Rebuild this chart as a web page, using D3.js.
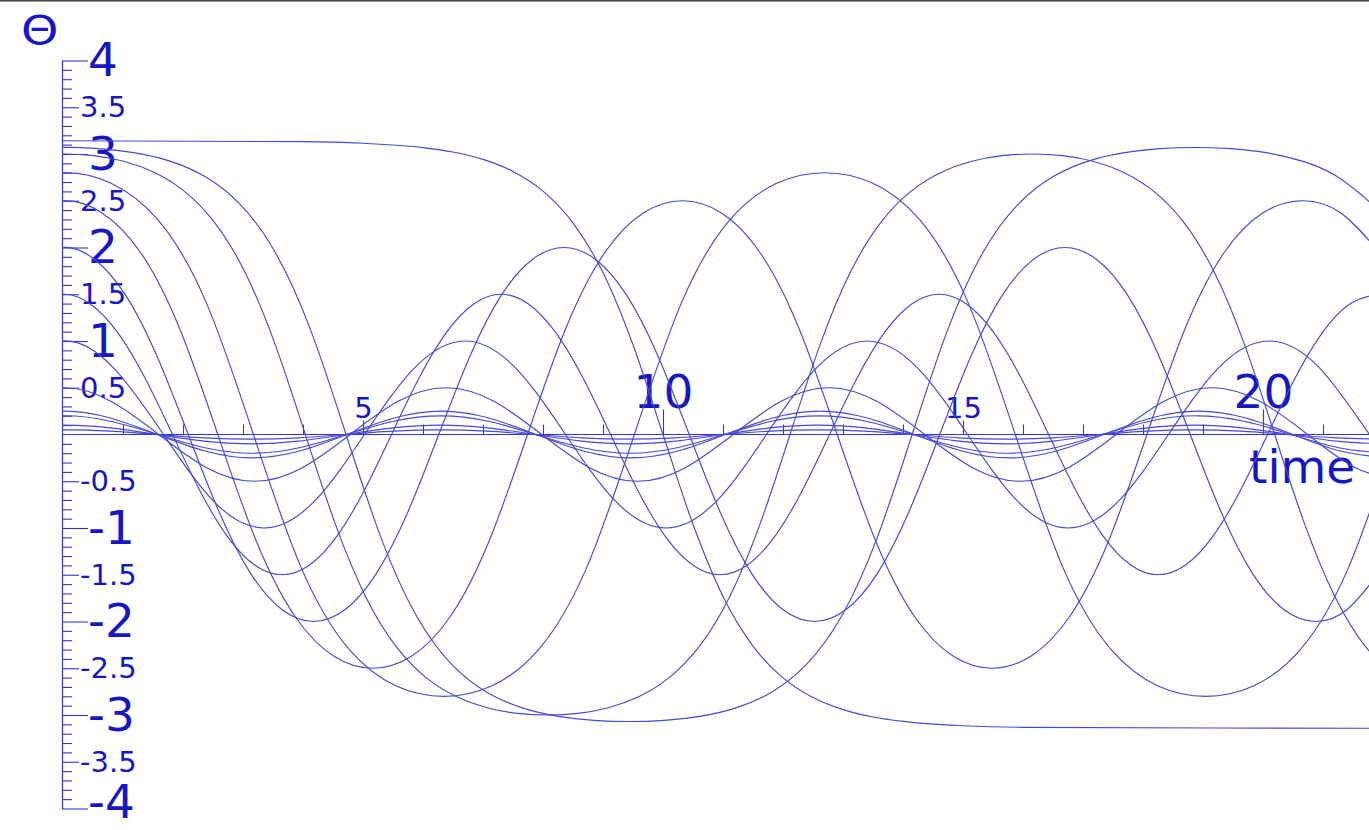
<!DOCTYPE html>
<html>
<head>
<meta charset="utf-8">
<script src="https://cdn.jsdelivr.net/npm/d3@7"></script>
<style>
  html, body { margin: 0; padding: 0; background: #ffffff; overflow: hidden; }
  svg { display: block; }
</style>
</head>
<body>
<svg id="chart" width="1369" height="830"></svg>
<script>
// Pendulum angle θ (rad) against time for a set of release angles.
// Each swing is sampled on a uniform time grid; the first sample sits one
// step before release (mirror of the next one) so the spline starts flat.

const step_005 = 0.78553;
const theta_005 = [0.0354,
  0.05, 0.0354, 0, -0.0354, -0.05, -0.0354, 0, 0.0354,
  0.05, 0.0354, 0, -0.0354, -0.05, -0.0354, 0, 0.0354,
  0.05, 0.0354, 0, -0.0354, -0.05, -0.0354, 0, 0.0354,
  0.05, 0.0354, 0, -0.0354, -0.05];

const step_010 = 0.78589;
const theta_010 = [0.0707,
  0.1, 0.0707, 0, -0.0707, -0.1, -0.0707, 0, 0.0707,
  0.1, 0.0707, 0, -0.0707, -0.1, -0.0707, 0, 0.0707,
  0.1, 0.0707, 0, -0.0707, -0.1, -0.0707, 0, 0.0707,
  0.1, 0.0707, 0, -0.0707, -0.1];

const step_020 = 0.78737;
const theta_020 = [0.1414,
  0.2, 0.1414, 0, -0.1414, -0.2, -0.1414, 0, 0.1414,
  0.2, 0.1414, 0, -0.1414, -0.2, -0.1414, 0, 0.1414,
  0.2, 0.1414, 0, -0.1414, -0.2, -0.1414, 0, 0.1414,
  0.2, 0.1414, 0, -0.1414, -0.2];

const step_025 = 0.78848;
const theta_025 = [0.1768,
  0.25, 0.1768, 0, -0.1768, -0.25, -0.1768, 0, 0.1768,
  0.25, 0.1768, 0, -0.1768, -0.25, -0.1768, 0, 0.1768,
  0.25, 0.1768, 0, -0.1768, -0.25, -0.1768, 0, 0.1768,
  0.25, 0.1768, 0, -0.1768, -0.25];

const step_050 = 0.79785;
const theta_050 = [0.3545,
  0.5, 0.3545, 0, -0.3545, -0.5, -0.3545, 0, 0.3545,
  0.5, 0.3545, 0, -0.3545, -0.5, -0.3545, 0, 0.3545,
  0.5, 0.3545, 0, -0.3545, -0.5, -0.3545, 0, 0.3545,
  0.5, 0.3545, 0, -0.3545, -0.5];

const step_100 = 0.8375;
const theta_100 = [0.715,
  1, 0.715, 0, -0.715, -1, -0.715, 0, 0.715,
  1, 0.715, 0, -0.715, -1, -0.715, 0, 0.715,
  1, 0.715, 0, -0.715, -1, -0.715, 0, 0.715,
  1, 0.715, 0, -0.715];

const step_150 = 0.4563;
const theta_150 = [1.396,
  1.5, 1.396, 1.089, 0.601, 0, -0.601, -1.089, -1.396, -1.5, -1.396, -1.089, -0.601, 0, 0.601, 1.089, 1.396,
  1.5, 1.396, 1.089, 0.601, 0, -0.601, -1.089, -1.396, -1.5, -1.396, -1.089, -0.601, 0, 0.601, 1.089, 1.396,
  1.5, 1.396, 1.089, 0.601, 0, -0.601, -1.089, -1.396, -1.5, -1.396, -1.089, -0.601, 0, 0.601, 1.089, 1.396,
  1.5];

const step_200 = 0.52186;
const theta_200 = [1.875,
  2, 1.875, 1.49, 0.84, 0, -0.84, -1.49, -1.875, -2, -1.875, -1.49, -0.84, 0, 0.84, 1.49, 1.875,
  2, 1.875, 1.49, 0.84, 0, -0.84, -1.49, -1.875, -2, -1.875, -1.49, -0.84, 0, 0.84, 1.49, 1.875,
  2, 1.875, 1.49, 0.84, 0, -0.84, -1.49, -1.875, -2, -1.875, -1.49];

const step_250 = 0.6452;
const theta_250 = [2.372,
  2.5, 2.372, 1.949, 1.147, 0, -1.147, -1.949, -2.372, -2.5, -2.372, -1.949, -1.147, 0, 1.147, 1.949, 2.372,
  2.5, 2.372, 1.949, 1.147, 0, -1.147, -1.949, -2.372, -2.5, -2.372, -1.949, -1.147, 0, 1.147, 1.949, 2.372,
  2.5, 2.372, 1.949];

const step_280 = 0.79357;
const theta_280 = [2.689,
  2.8, 2.689, 2.292, 1.421, 0, -1.421, -2.292, -2.689, -2.8, -2.689, -2.292, -1.421, 0, 1.421, 2.292, 2.689,
  2.8, 2.689, 2.292, 1.421, 0, -1.421, -2.292, -2.689, -2.8, -2.689, -2.292, -1.421, 0];

const step_300 = 0.50486;
const theta_300 = [2.982,
  3, 2.982, 2.922, 2.805, 2.603, 2.269, 1.74, 0.967, 0, -0.967, -1.74, -2.269, -2.603, -2.805, -2.922, -2.982,
  -3, -2.982, -2.922, -2.805, -2.603, -2.269, -1.74, -0.967, 0, 0.967, 1.74, 2.269, 2.603, 2.805, 2.922, 2.982,
  3, 2.982, 2.922, 2.805, 2.603, 2.269, 1.74, 0.967, 0, -0.967, -1.74, -2.269, -2.603];

const step_307 = 0.5897;
const theta_307 = [3.057,
  3.07, 3.057, 3.014, 2.926, 2.761, 2.464, 1.947, 1.116, 0, -1.116, -1.947, -2.464, -2.761, -2.926, -3.014, -3.057,
  -3.07, -3.057, -3.014, -2.926, -2.761, -2.464, -1.947, -1.116, 0, 1.116, 1.947, 2.464, 2.761, 2.926, 3.014, 3.057,
  3.07, 3.057, 3.014, 2.926, 2.761, 2.464];

// released almost exactly upside down: one slow flip, read at irregular times
const time_pi = [0, 4, 5, 6, 6.5, 7, 7.5, 8, 8.5, 9, 9.5, 10, 10.5, 11, 11.5, 12, 12.5, 13, 13.5, 14, 15, 16, 22];
const theta_pi = [3.1415, 3.1316, 3.1146, 3.0683, 3.0208, 2.9426, 2.814, 2.6035, 2.2634, 1.7315, 0.9605, 0,
  -0.9605, -1.7315, -2.2634, -2.6035, -2.814, -2.9426, -3.0208, -3.0683, -3.1146, -3.1316, -3.1415];

// axis labels
const yMajorTicks = [-4, -3, -2, -1, 1, 2, 3, 4];
const yHalfTicks = [-3.5, -2.5, -1.5, -0.5, 0.5, 1.5, 2.5, 3.5];
const xMajorTicks = [10, 20];
const xMidTicks = [5, 15];
const xMinorTicks = [1, 2, 3, 4, 6, 7, 8, 9, 11, 12, 13, 14, 16, 17, 18, 19, 21];

// ------------------------------------------------------------------
const W = 1369, H = 830;
const svg = d3.select("#chart");
const textColor = "#1616c6";
const axisColor = "#3434d2";
const curveColor = "#4747dc";
const fontFamily = "'DejaVu Sans', Verdana, sans-serif";

const x = d3.scaleLinear().domain([0, 21.7667]).range([63, 1369]);
const y = d3.scaleLinear().domain([-4, 4]).range([808.5, 60.5]);

// thin frame edge along the top
svg.append("rect").attr("x", 0).attr("y", 0).attr("width", W).attr("height", 1.6).attr("fill", "#4a4a4a");

// ---------------- y axis ----------------
const yAxisX = 62;
const yMinor = d3.range(-40, 41).map(d => d / 10).filter(d => Math.abs(d * 2 - Math.round(d * 2)) > 1e-6);

function styleAxis(g, size) {
  g.attr("color", axisColor)
   .attr("font-family", fontFamily)
   .attr("font-size", size);
  g.selectAll(".tick line").attr("stroke-width", 1.1);
  g.selectAll("text").attr("fill", textColor);
}

const gyMinor = svg.append("g").attr("transform", `translate(${yAxisX},0)`)
  .call(d3.axisRight(y).tickValues(yMinor).tickSize(10).tickSizeOuter(0).tickFormat(""));
styleAxis(gyMinor, 10);
gyMinor.select(".domain").attr("stroke-width", 1.2);

const gyHalf = svg.append("g").attr("transform", `translate(${yAxisX},0)`)
  .call(d3.axisRight(y).tickValues(yHalfTicks).tickSize(17).tickPadding(1).tickFormat(d => String(d)));
gyHalf.select(".domain").remove();
styleAxis(gyHalf, 29);

const gyMajor = svg.append("g").attr("transform", `translate(${yAxisX},0)`)
  .call(d3.axisRight(y).tickValues(yMajorTicks).tickSize(26).tickPadding(0).tickFormat(d => String(d)));
gyMajor.select(".domain").remove();
styleAxis(gyMajor, 47);
// the lowest label sits against the bottom edge; lift it a little so it stays inside
gyMajor.selectAll(".tick").filter(d => d === -4).select("text").attr("dy", "0.2em");

// ---------------- x axis ----------------
const xAxisY = y(0);

const gxMinor = svg.append("g").attr("transform", `translate(0,${xAxisY})`)
  .call(d3.axisTop(x).tickValues(xMinorTicks).tickSize(10).tickSizeOuter(0).tickFormat(""));
styleAxis(gxMinor, 10);
gxMinor.select(".domain").attr("d", `M${yAxisX},0H${W}`).attr("stroke-width", 1.2);

const gxMid = svg.append("g").attr("transform", `translate(0,${xAxisY})`)
  .call(d3.axisTop(x).tickValues(xMidTicks).tickSize(14).tickPadding(3).tickFormat(d => String(d)));
gxMid.select(".domain").remove();
styleAxis(gxMid, 29);

const gxMajor = svg.append("g").attr("transform", `translate(0,${xAxisY})`)
  .call(d3.axisTop(x).tickValues(xMajorTicks).tickSize(25).tickPadding(2).tickFormat(d => String(d)));
gxMajor.select(".domain").remove();
styleAxis(gxMajor, 47);

// axis titles
svg.append("text")
  .attr("transform", "translate(21,44) scale(1.22,1)")
  .attr("font-family", fontFamily).attr("font-size", 39).attr("fill", textColor)
  .text("Θ");
svg.append("text").attr("x", 1249).attr("y", 483)
  .attr("font-family", fontFamily).attr("font-size", 47).attr("fill", textColor)
  .text("time");

// ---------------- curves ----------------
svg.append("clipPath").attr("id", "plot-clip")
  .append("rect").attr("x", yAxisX).attr("y", 0).attr("width", W - yAxisX).attr("height", H);

function gridSeries(step, values) {
  return values.map((v, i) => [(i - 1) * step, v]);
}

const swings = [
  gridSeries(step_005, theta_005),
  gridSeries(step_010, theta_010),
  gridSeries(step_020, theta_020),
  gridSeries(step_025, theta_025),
  gridSeries(step_050, theta_050),
  gridSeries(step_100, theta_100),
  gridSeries(step_150, theta_150),
  gridSeries(step_200, theta_200),
  gridSeries(step_250, theta_250),
  gridSeries(step_280, theta_280),
  gridSeries(step_300, theta_300),
  gridSeries(step_307, theta_307)
];

const smoothLine = d3.line().x(d => x(d[0])).y(d => y(d[1])).curve(d3.curveNatural);
const flipLine = d3.line().x(d => x(d[0])).y(d => y(d[1])).curve(d3.curveMonotoneX);

const gCurves = svg.append("g").attr("clip-path", "url(#plot-clip)")
  .attr("fill", "none").attr("stroke", curveColor).attr("stroke-width", 1.15);

gCurves.selectAll("path.swing").data(swings).join("path")
  .attr("class", "swing")
  .attr("d", smoothLine);

gCurves.append("path")
  .datum(time_pi.map((t, i) => [t, theta_pi[i]]))
  .attr("d", flipLine);
</script>
</body>
</html>
